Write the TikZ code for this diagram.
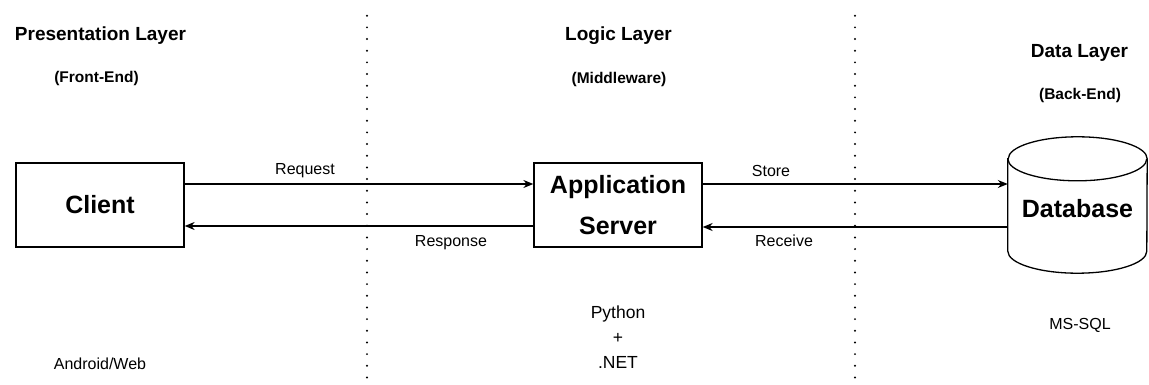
\documentclass[tikz,border=0pt]{standalone}
\usepackage{fontspec}
\setmainfont{Liberation Sans}
\usetikzlibrary{arrows.meta}
\begin{document}
\begin{tikzpicture}[x=1pt,y=1pt,
  box/.style={draw, line width=1.3pt, minimum width=168pt, minimum height=84pt, inner sep=0pt,
    font=\fontsize{25}{41}\selectfont\bfseries, align=center},
  title/.style={font=\fontsize{19}{22}\selectfont\bfseries},
  sub/.style={font=\fontsize{15.5}{18}\selectfont\bfseries},
  lbl/.style={font=\fontsize{16}{19}\selectfont},
  note/.style={font=\fontsize{17.5}{25}\selectfont, align=center},
  arr/.style={-{Stealth[length=10pt,width=8pt]}, line width=1.2pt},
  sep/.style={line width=2.2pt, dash pattern=on 0pt off 11.67pt, line cap=round},
  cyl/.style={line width=1.3pt}]
\useasboundingbox (0,0) rectangle (1149,-385);

% separators
\coordinate (s1t) at (367,-15.7);
\coordinate (s1b) at (367,-385);
\coordinate (s2t) at (855,-15.7);
\coordinate (s2b) at (855,-385);
\draw[sep] (s1t) -- (s1b);
\draw[sep] (s2t) -- (s2b);

% titles
\node[title] (t1) at (100.5,-36) {Presentation Layer};
\node[sub] (st1) at (96.5,-78) {(Front-End)};
\node[title] (t2) at (618.5,-36) {Logic Layer};
\node[sub] (st2) at (619,-79) {(Middleware)};
\node[title] (t3) at (1079.5,-53) {Data Layer};
\node[sub] (st3) at (1080,-95) {(Back-End)};

% boxes
\node[box] (client) at (100,-205) {Client};
\node[box] (app) at (618,-205) {Application\\Server};
\node[minimum width=139pt, minimum height=136pt, inner sep=0pt,
  text height=24pt, text depth=0pt,
  font=\fontsize{25}{30}\selectfont\bfseries] (db) at (1077.5,-205) {Database};

% cylinder
\draw[cyl] ([yshift=-22pt]db.north west) -- ([yshift=22pt]db.south west)
  arc[start angle=180, end angle=360, x radius=69.5pt, y radius=22pt]
  -- ([yshift=-22pt]db.north east)
  arc[start angle=0, end angle=180, x radius=69.5pt, y radius=22pt] -- cycle;
\draw[cyl] ([yshift=-22pt]db.north west)
  arc[start angle=180, end angle=360, x radius=69.5pt, y radius=22pt];

% connectors
\draw[arr] ([yshift=21pt]client.east) -- ([yshift=21pt]app.west);
\draw[arr] ([yshift=-21pt]app.west) -- ([yshift=-21pt]client.east);
\draw[arr] ([yshift=21pt]app.east) -- ([yshift=21pt]db.west);
\draw[arr] ([yshift=-22pt]db.west) -- ([yshift=-22pt]app.east);

% connector labels
\node[lbl] (req) at (305,-171) {Request};
\node[lbl] (resp) at (451,-243) {Response};
\node[lbl] (store) at (771,-171) {Store};
\node[lbl] (recv) at (784,-241) {Receive};

% bottom notes
\node[lbl] (aw) at (100,-364) {Android/Web};
\node[note] (tech) at (618,-337) {Python\\+\\.NET};
\node[lbl] (ms) at (1080,-325) {MS-SQL};
\end{tikzpicture}
\end{document}
